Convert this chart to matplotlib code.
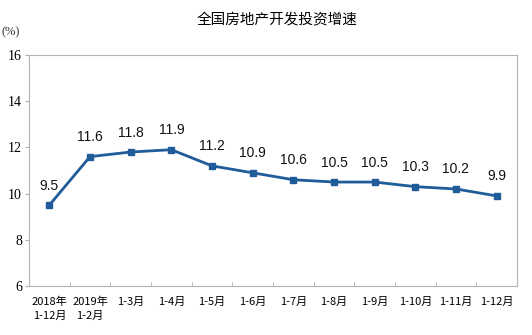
import matplotlib.pyplot as plt

# 全国房地产开发投资增速 (%)
periods = ["2018年\n1-12月", "2019年\n1-2月", "1-3月", "1-4月", "1-5月", "1-6月",
           "1-7月", "1-8月", "1-9月", "1-10月", "1-11月", "1-12月"]
growth = [9.5, 11.6, 11.8, 11.9, 11.2, 10.9, 10.6, 10.5, 10.5, 10.3, 10.2, 9.9]
yticks = [6, 8, 10, 12, 14, 16]

cjk = ["Noto Sans CJK SC", "DejaVu Sans"]
serif_cjk = ["Liberation Serif", "Noto Sans CJK SC"]
line_color = "#1f5c99"

fig = plt.figure(figsize=(5.32, 3.35), dpi=100)
ax = fig.add_axes([29 / 532, 1 - 286 / 335, 488 / 532, 231 / 335])

x = list(range(len(growth)))
ax.plot(x, growth, color=line_color, linewidth=2, marker="s", markersize=5,
        markerfacecolor=line_color, markeredgecolor=line_color)

for xi, v in zip(x, growth):
    ax.annotate(f"{v}", (xi, v), xytext=(0, 9), textcoords="offset points",
                ha="center", va="bottom", fontsize=10,
                family=["Liberation Sans", "DejaVu Sans"], color="#111111")

ax.set_xlim(-0.5, len(growth) - 0.5)
ax.set_ylim(6, 16)
ax.set_yticks(yticks)
ax.set_yticklabels([str(t) for t in yticks], family=serif_cjk, fontsize=10)

# category labels sit between the boundary tick marks
ax.set_xticks(x)
ax.set_xticklabels(periods, family=cjk, fontsize=8, linespacing=1.4, va="top")
ax.tick_params(axis="x", length=0, pad=8)
ax.set_xticks([i + 0.5 for i in x[:-1]], minor=True)
ax.tick_params(axis="x", which="minor", direction="in", length=3, color="#b0b0b0")
ax.tick_params(axis="y", direction="out", length=3, color="#b0b0b0", pad=2)

for side in ax.spines.values():
    side.set_color("#b3b3b3")
    side.set_linewidth(0.8)

fig.text(277 / 532, 1 - 20 / 335, "全国房地产开发投资增速", ha="center", va="center",
         fontsize=10.5, family=cjk)
fig.text(1 / 532, 1 - 32 / 335, "(%)", ha="left", va="center", fontsize=9,
         family=serif_cjk, color="#333333")

fig.savefig("out.png", dpi=100, facecolor="white")
